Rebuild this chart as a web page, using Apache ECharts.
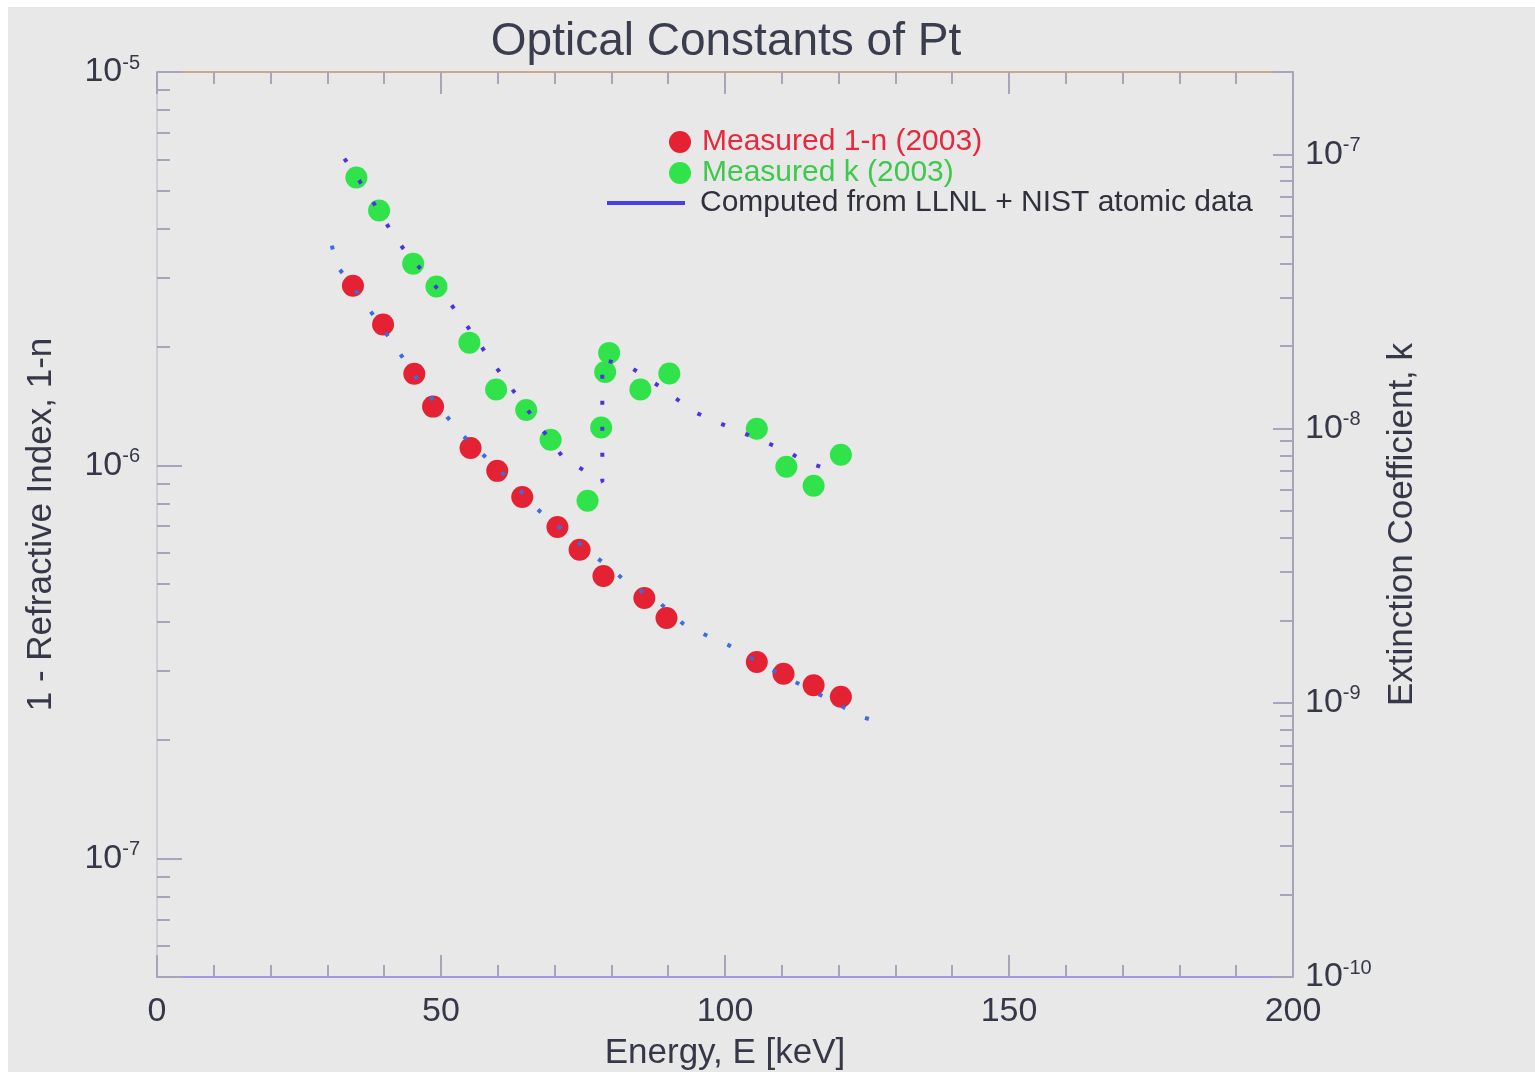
<!DOCTYPE html>
<html>
<head>
<meta charset="utf-8">
<script src="https://cdn.jsdelivr.net/npm/echarts@6/dist/echarts.min.js"></script>
<style>
html, body { margin: 0; padding: 0; background: #ffffff; }
#chart { position: absolute; left: 8px; top: 7px; width: 1527px; height: 1065px; }
</style>
</head>
<body>
<div id="chart"></div>
<script>
// Measured refractive decrement 1-n of Pt (2003)
const energyDelta = [34.5, 39.8, 45.3, 48.6, 55.2, 59.9, 64.3, 70.5, 74.4, 78.6, 85.8, 89.7, 105.6, 110.3, 115.6, 120.4];
const delta = [2.86e-6, 2.28e-6, 1.71e-6, 1.41e-6, 1.107e-6, 9.68e-7, 8.31e-7, 6.97e-7, 6.10e-7, 5.23e-7, 4.60e-7, 4.09e-7, 3.16e-7, 2.95e-7, 2.76e-7, 2.58e-7];

// Measured extinction coefficient k of Pt (2003)
const energyK = [35.1, 39.1, 45.1, 49.2, 55.0, 59.7, 65.0, 69.3, 75.8, 78.2, 78.9, 79.6, 85.1, 90.2, 105.6, 110.8, 115.6, 120.4];
const kMeasured = [8.24e-8, 6.25e-8, 4.00e-8, 3.30e-8, 2.06e-8, 1.39e-8, 1.17e-8, 9.11e-9, 5.46e-9, 1.01e-8, 1.61e-8, 1.89e-8, 1.39e-8, 1.59e-8, 1.00e-8, 7.26e-9, 6.19e-9, 8.03e-9];

// Computed curves (LLNL + NIST atomic data)
const energyDeltaCalc = [30.8, 31.5, 35.9, 42.1, 46.9, 53.6, 62.6, 67.3, 83.3, 87.9, 92.5, 97.6, 100.6, 107.7, 124.2, 125.5];
const deltaCalc = [3.62e-6, 3.24e-6, 2.67e-6, 1.99e-6, 1.57e-6, 1.20e-6, 9.03e-7, 7.66e-7, 4.97e-7, 4.55e-7, 3.97e-7, 3.64e-7, 3.49e-7, 3.05e-7, 2.29e-7, 2.26e-7];
const energyKCalc = [33.0, 37.0, 41.6, 43.5, 51.5, 53.6, 58.1, 62.0, 71.4, 77.4, 78.4, 78.4, 83.3, 88.6, 94.6, 98.9, 111.2, 113.7, 118.4];
const kCalc = [9.66e-8, 7.27e-8, 5.10e-8, 4.50e-8, 2.88e-8, 2.54e-8, 1.86e-8, 1.44e-8, 7.90e-9, 6.57e-9, 6.40e-9, 1.79e-8, 1.68e-8, 1.42e-8, 1.15e-8, 1.05e-8, 8.24e-9, 7.64e-9, 7.08e-9];

// Axis ranges
const energyRange = [0, 200];
const deltaRange = [5e-8, 1e-5];
const kRange = [1e-10, 2e-7];

const FONT = '"Liberation Sans", Arial, Helvetica, sans-serif';
const TEXT = '#363848';
const TICK = '#aaa4ba';

const pairs = (xs, ys) => xs.map((x, i) => [x, ys[i]]);

// "10^n" labels only at whole decades
function decadeLabel(v) {
  const e = Math.log10(v);
  const r = Math.round(e);
  if (Math.abs(e - r) > 1e-6) return '';
  return '{b|10}{s|' + r + '}';
}
const decadeRich = {
  b: { fontSize: 34, color: TEXT, fontFamily: FONT },
  s: { fontSize: 20, color: TEXT, fontFamily: FONT, padding: [0, 0, 18, 0] }
};

const chart = echarts.init(document.getElementById('chart'));
chart.setOption({
  backgroundColor: '#e8e8e8',
  animation: false,
  title: {
    text: 'Optical Constants of Pt',
    left: 718,
    top: 12,
    padding: 0,
    textAlign: 'center',
    textStyle: { fontFamily: FONT, fontSize: 46, fontWeight: 'normal', color: '#3a3d4e' }
  },
  legend: [
    {
      orient: 'vertical',
      left: 656,
      top: 115,
      itemWidth: 34,
      itemHeight: 22,
      itemGap: 1,
      icon: 'circle',
      textStyle: { fontFamily: FONT, fontSize: 30, lineHeight: 30 },
      data: [
        { name: 'Measured 1-n (2003)', textStyle: { color: '#e8283c' } },
        { name: 'Measured k (2003)', textStyle: { color: '#3fc94c' } }
      ]
    },
    {
      left: 594,
      top: 176,
      itemWidth: 78,
      itemHeight: 4,
      textStyle: { fontFamily: FONT, fontSize: 30, lineHeight: 30, color: '#2f303c', padding: [0, 0, 0, 10] },
      data: [
        { name: 'Computed from LLNL + NIST atomic data', icon: 'rect', itemStyle: { color: '#4b3fe0' } }
      ]
    }
  ],
  grid: { left: 149, right: 242, top: 65, bottom: 95, containLabel: false, outerBoundsMode: 'none' },
  xAxis: [
    {
      type: 'value',
      min: energyRange[0],
      max: energyRange[1],
      interval: 50,
      name: 'Energy, E [keV]',
      nameLocation: 'middle',
      nameGap: 59,
      nameTextStyle: { fontFamily: FONT, fontSize: 35, color: TEXT },
      axisLine: { onZero: false, lineStyle: { color: '#a796e6', width: 2 } },
      axisTick: { inside: true, length: 22, lineStyle: { color: TICK, width: 2 } },
      minorTick: { show: true, splitNumber: 5, length: 12, lineStyle: { color: TICK, width: 2 } },
      axisLabel: { margin: 18, fontFamily: FONT, fontSize: 34, color: TEXT },
      splitLine: { show: false }
    },
    {
      type: 'value',
      position: 'top',
      min: energyRange[0],
      max: energyRange[1],
      interval: 50,
      axisLine: { onZero: false, lineStyle: { color: '#c9a78c', width: 2 } },
      axisTick: { inside: true, length: 22, lineStyle: { color: TICK, width: 2 } },
      minorTick: { show: true, splitNumber: 5, length: 12, lineStyle: { color: TICK, width: 2 } },
      axisLabel: { show: false },
      splitLine: { show: false }
    }
  ],
  yAxis: [
    {
      type: 'log',
      logBase: 10,
      min: deltaRange[0],
      max: deltaRange[1],
      name: '1 - Refractive Index, 1-n',
      nameLocation: 'middle',
      nameRotate: 90,
      nameGap: 98,
      nameTextStyle: { fontFamily: FONT, fontSize: 35, color: TEXT },
      axisLine: { onZero: false, lineStyle: { color: '#cfcfd6', width: 2 } },
      axisTick: { inside: true, length: 25, lineStyle: { color: TICK, width: 2 } },
      minorTick: { show: true, splitNumber: 9, length: 13, lineStyle: { color: TICK, width: 2 } },
      axisLabel: { margin: 17, formatter: decadeLabel, rich: decadeRich },
      splitLine: { show: false }
    },
    {
      type: 'log',
      logBase: 10,
      min: kRange[0],
      max: kRange[1],
      position: 'right',
      name: 'Extinction Coefficient, k',
      nameLocation: 'middle',
      nameRotate: 90,
      nameGap: 92,
      nameTextStyle: { fontFamily: FONT, fontSize: 35, color: TEXT },
      axisLine: { onZero: false, lineStyle: { color: '#a9a1b8', width: 2 } },
      axisTick: { inside: true, length: 20, lineStyle: { color: TICK, width: 2 } },
      minorTick: { show: true, splitNumber: 9, length: 13, lineStyle: { color: TICK, width: 2 } },
      axisLabel: { margin: 12, formatter: decadeLabel, rich: decadeRich },
      splitLine: { show: false }
    }
  ],
  series: [
    {
      name: 'Measured 1-n (2003)',
      type: 'scatter',
      xAxisIndex: 0,
      yAxisIndex: 0,
      symbol: 'circle',
      symbolSize: 22,
      itemStyle: { color: '#e42233', opacity: 1 },
      data: pairs(energyDelta, delta)
    },
    {
      name: 'Measured k (2003)',
      type: 'scatter',
      xAxisIndex: 0,
      yAxisIndex: 1,
      symbol: 'circle',
      symbolSize: 22,
      itemStyle: { color: '#30e34b', opacity: 1 },
      data: pairs(energyK, kMeasured)
    },
    {
      name: 'Computed from LLNL + NIST atomic data',
      type: 'line',
      xAxisIndex: 0,
      yAxisIndex: 0,
      showSymbol: false,
      symbol: 'none',
      z: 3,
      itemStyle: { color: '#3a6ee0' },
      lineStyle: { color: '#3a6ee0', width: 4, type: [4, 22], cap: 'butt' },
      data: pairs(energyDeltaCalc, deltaCalc)
    },
    {
      name: 'Computed from LLNL + NIST atomic data',
      type: 'line',
      xAxisIndex: 0,
      yAxisIndex: 1,
      showSymbol: false,
      symbol: 'none',
      z: 3,
      itemStyle: { color: '#4b34e0' },
      lineStyle: { color: '#4b34e0', width: 4, type: [4, 22], cap: 'butt' },
      data: pairs(energyKCalc, kCalc)
    }
  ]
});
</script>
</body>
</html>
